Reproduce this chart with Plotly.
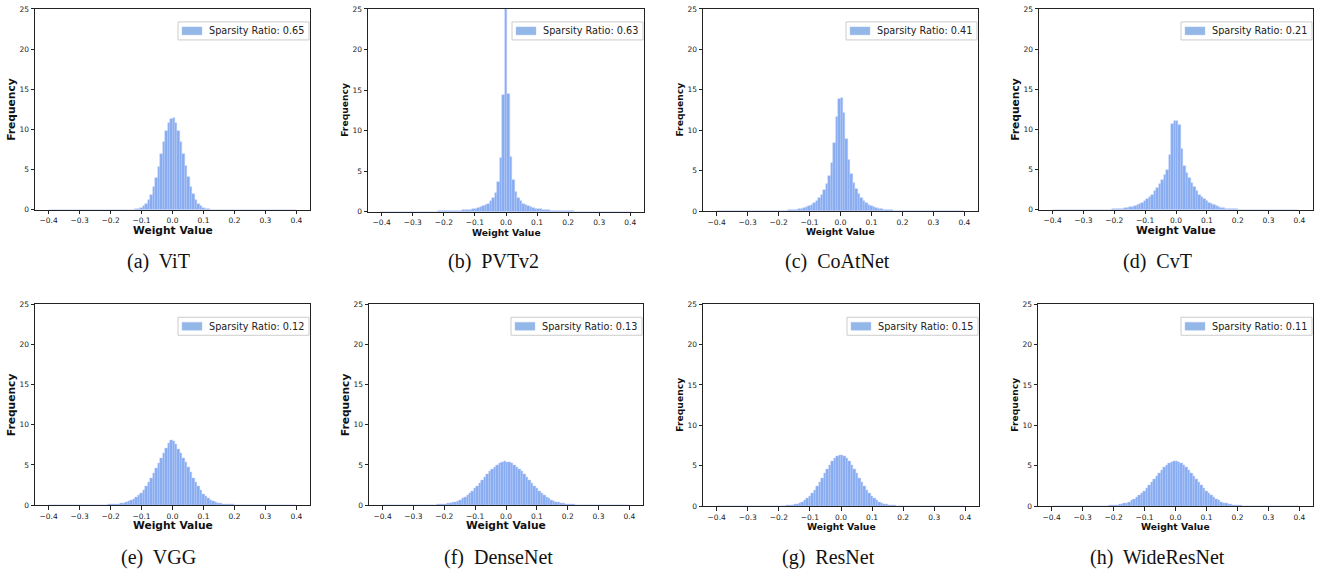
import plotly.graph_objects as go

# ---------------- data ----------------
model_names = ["ViT", "PVTv2", "CoAtNet", "CvT", "VGG", "DenseNet", "ResNet", "WideResNet"]
panel_letters = ["a", "b", "c", "d", "e", "f", "g", "h"]
sparsity_ratios = ["0.65", "0.63", "0.41", "0.21", "0.12", "0.13", "0.15", "0.11"]
bin_width = 0.008
first_bin_center = [-0.396, -0.4, -0.396, -0.396, -0.396, -0.396, -0.396, -0.396]
x_tick_vals = [-0.4, -0.3, -0.2, -0.1, 0.0, 0.1, 0.2, 0.3, 0.4]
x_tick_text = ["\u22120.4", "\u22120.3", "\u22120.2", "\u22120.1", "0.0", "0.1", "0.2", "0.3", "0.4"]
y_tick_vals = [0, 5, 10, 15, 20, 25]
y_tick_text = ["0", "5", "10", "15", "20", "25"]

vit = [
    0, 0, 0, 0, 0, 0, 0, 0, 0, 0,
    0, 0, 0, 0, 0, 0, 0, 0, 0, 0,
    0, 0, 0, 0, 0, 0, 0, 0, 0, 0,
    0, 0, 0, 0.01, 0.03, 0.07, 0.13, 0.25, 0.45, 0.76,
    1.22, 1.9, 2.82, 4.0, 5.38, 6.9, 8.4, 9.78, 10.8, 11.36,
    11.38, 10.83, 9.82, 8.46, 6.95, 5.43, 4.04, 2.85, 1.92, 1.23,
    0.75, 0.44, 0.24, 0.13, 0.06, 0.03, 0.01, 0, 0, 0,
    0, 0, 0, 0, 0, 0, 0, 0, 0, 0,
    0, 0, 0, 0, 0, 0, 0, 0, 0, 0,
    0, 0, 0, 0, 0, 0, 0, 0, 0, 0,
]

pvtv2 = [
    0.01, 0.01, 0.01, 0.01, 0.01, 0.01, 0.01, 0.01, 0.01, 0.01,
    0.02, 0.02, 0.02, 0.02, 0.02, 0.02, 0.02, 0.02, 0.02, 0.02,
    0.03, 0.03, 0.03, 0.04, 0.04, 0.05, 0.06, 0.07, 0.08, 0.09,
    0.1, 0.12, 0.15, 0.17, 0.2, 0.24, 0.28, 0.33, 0.39, 0.46,
    0.55, 0.66, 0.8, 1.0, 1.28, 1.7, 2.35, 3.7, 6.6, 14.4,
    36.0,
    14.5, 6.8, 3.9, 2.5, 1.75, 1.3, 1.0, 0.82, 0.68, 0.56,
    0.47, 0.40, 0.34, 0.29, 0.25, 0.21, 0.18, 0.15, 0.13, 0.11,
    0.09, 0.08, 0.07, 0.06, 0.05, 0.04, 0.04, 0.03, 0.03, 0.03,
    0.02, 0.02, 0.02, 0.02, 0.02, 0.02, 0.02, 0.02, 0.02, 0.02,
    0.01, 0.01, 0.01, 0.01, 0.01, 0.01, 0.01, 0.01, 0.01, 0.01,
]

coatnet = [
    0.01, 0.01, 0.01, 0.01, 0.01, 0.01, 0.01, 0.01, 0.01, 0.01,
    0.01, 0.01, 0.01, 0.01, 0.01, 0.01, 0.01, 0.01, 0.01, 0.01,
    0.02, 0.02, 0.025, 0.03, 0.04, 0.045, 0.055, 0.07, 0.09, 0.11,
    0.14, 0.17, 0.22, 0.27, 0.34, 0.42, 0.52, 0.65, 0.82, 1.03,
    1.3, 1.62, 2.05, 2.6, 3.4, 4.4, 6.0, 8.4, 11.6, 13.9,
    14.0, 12.1, 8.9, 6.4, 4.6, 3.5, 2.7, 2.1, 1.65, 1.3,
    1.02, 0.8, 0.63, 0.5, 0.4, 0.32, 0.25, 0.2, 0.16, 0.13,
    0.1, 0.08, 0.065, 0.05, 0.04, 0.035, 0.03, 0.025, 0.02, 0.02,
    0.01, 0.01, 0.01, 0.01, 0.01, 0.01, 0.01, 0.01, 0.01, 0.01,
    0.01, 0.01, 0.01, 0.01, 0.01, 0.01, 0.01, 0.01, 0.01, 0.01,
]

cvt = [
    0.01, 0.01, 0.01, 0.01, 0.01, 0.01, 0.01, 0.01, 0.01, 0.01,
    0.01, 0.01, 0.01, 0.01, 0.01, 0.01, 0.01, 0.01, 0.01, 0.01,
    0.02, 0.02, 0.03, 0.04, 0.05, 0.07, 0.09, 0.12, 0.15, 0.19,
    0.24, 0.3, 0.38, 0.48, 0.6, 0.73, 0.9, 1.1, 1.35, 1.6,
    1.9, 2.3, 2.7, 3.2, 3.7, 4.3, 4.9, 6.8, 10.7, 11.1,
    11.1, 10.6, 7.6, 5.4, 4.6, 4.0, 3.4, 2.8, 2.3, 1.9,
    1.6, 1.3, 1.05, 0.85, 0.68, 0.54, 0.43, 0.34, 0.27, 0.21,
    0.16, 0.12, 0.09, 0.07, 0.05, 0.04, 0.03, 0.02, 0.02, 0.02,
    0.01, 0.01, 0.01, 0.01, 0.01, 0.01, 0.01, 0.01, 0.01, 0.01,
    0.01, 0.01, 0.01, 0.01, 0.01, 0.01, 0.01, 0.01, 0.01, 0.01,
]

vgg = [
    0.01, 0.01, 0.01, 0.01, 0.01, 0.01, 0.01, 0.01, 0.01, 0.01,
    0.01, 0.01, 0.01, 0.01, 0.01, 0.01, 0.01, 0.01, 0.01, 0.01,
    0.015, 0.02, 0.025, 0.035, 0.045, 0.06, 0.08, 0.11, 0.14, 0.19,
    0.25, 0.33, 0.43, 0.56, 0.72, 0.92, 1.18, 1.5, 1.9, 2.35,
    2.85, 3.4, 4.0, 4.6, 5.2, 5.8, 6.4, 7.1, 7.7, 8.1,
    8.0, 7.6, 7.0, 6.4, 5.8, 5.3, 4.7, 4.05, 3.4, 2.8,
    2.3, 1.85, 1.4, 1.1, 0.85, 0.66, 0.5, 0.38, 0.28, 0.21,
    0.16, 0.12, 0.09, 0.07, 0.05, 0.04, 0.03, 0.025, 0.02, 0.015,
    0.01, 0.01, 0.01, 0.01, 0.01, 0.01, 0.01, 0.01, 0.01, 0.01,
    0.01, 0.01, 0.01, 0.01, 0.01, 0.01, 0.01, 0.01, 0.01, 0.01,
]

densenet = [
    0.01, 0.01, 0.01, 0.01, 0.01, 0.01, 0.01, 0.01, 0.01, 0.01,
    0.01, 0.01, 0.01, 0.01, 0.01, 0.01, 0.015, 0.015, 0.02, 0.02,
    0.03, 0.04, 0.06, 0.08, 0.1, 0.14, 0.18, 0.24, 0.32, 0.41,
    0.52, 0.66, 0.82, 1.0, 1.22, 1.47, 1.75, 2.05, 2.38, 2.72,
    3.08, 3.45, 3.81, 4.15, 4.47, 4.76, 5.0, 5.19, 5.32, 5.4,
    5.39, 5.33, 5.20, 5.01, 4.77, 4.48, 4.16, 3.82, 3.46, 3.09,
    2.73, 2.39, 2.06, 1.75, 1.47, 1.23, 1.01, 0.82, 0.65, 0.52,
    0.40, 0.31, 0.24, 0.18, 0.13, 0.10, 0.07, 0.05, 0.04, 0.03,
    0.02, 0.02, 0.015, 0.015, 0.01, 0.01, 0.01, 0.01, 0.01, 0.01,
    0.01, 0.01, 0.01, 0.01, 0.01, 0.01, 0.01, 0.01, 0.01, 0.01,
]

resnet = [
    0.01, 0.01, 0.01, 0.01, 0.01, 0.01, 0.01, 0.01, 0.01, 0.01,
    0.01, 0.01, 0.01, 0.01, 0.01, 0.01, 0.01, 0.01, 0.01, 0.01,
    0.01, 0.01, 0.01, 0.01, 0.01, 0.02, 0.025, 0.035, 0.05, 0.08,
    0.12, 0.18, 0.26, 0.37, 0.52, 0.7, 0.94, 1.23, 1.57, 1.98,
    2.44, 2.94, 3.48, 4.03, 4.57, 5.08, 5.52, 5.9, 6.16, 6.3,
    6.28, 6.15, 5.90, 5.53, 5.09, 4.57, 4.03, 3.47, 2.93, 2.42,
    1.96, 1.55, 1.21, 0.92, 0.68, 0.50, 0.35, 0.25, 0.17, 0.11,
    0.07, 0.05, 0.03, 0.02, 0.02, 0.01, 0.01, 0.01, 0.01, 0.01,
    0.01, 0.01, 0.01, 0.01, 0.01, 0.01, 0.01, 0.01, 0.01, 0.01,
    0.01, 0.01, 0.01, 0.01, 0.01, 0.01, 0.01, 0.01, 0.01, 0.01,
]

wideresnet = [
    0.01, 0.01, 0.01, 0.01, 0.01, 0.01, 0.01, 0.01, 0.01, 0.01,
    0.01, 0.01, 0.01, 0.01, 0.01, 0.01, 0.01, 0.01, 0.01, 0.01,
    0.02, 0.02, 0.03, 0.045, 0.065, 0.09, 0.13, 0.17, 0.23, 0.31,
    0.41, 0.53, 0.67, 0.85, 1.05, 1.29, 1.57, 1.87, 2.2, 2.56,
    2.94, 3.33, 3.72, 4.1, 4.45, 4.77, 5.04, 5.26, 5.41, 5.5,
    5.49, 5.42, 5.27, 5.05, 4.78, 4.46, 4.11, 3.73, 3.34, 2.95,
    2.56, 2.20, 1.87, 1.56, 1.28, 1.04, 0.84, 0.66, 0.52, 0.40,
    0.30, 0.22, 0.17, 0.12, 0.09, 0.06, 0.045, 0.03, 0.02, 0.02,
    0.01, 0.01, 0.01, 0.01, 0.01, 0.01, 0.01, 0.01, 0.01, 0.01,
    0.01, 0.01, 0.01, 0.01, 0.01, 0.01, 0.01, 0.01, 0.01, 0.01,
]

series = [vit, pvtv2, coatnet, cvt, vgg, densenet, resnet, wideresnet]

# ---------------- layout geometry (pixels) ----------------
W, H = 1323, 578
# (left, right, top, bottom) of each plot area
boxes = [
    (35, 310, 5, 209), (368, 644, 5, 211), (703, 978, 5, 210.5), (1039, 1313, 5, 209),
    (35, 310, 305, 509), (369, 643, 305, 509), (703, 979, 305, 510), (1038, 1313, 305, 510),
]
title_sizes = [10.7, 9.2, 9.2, 10.7, 10.7, 10.7, 9.2, 9.2]
caption_x = [158, 493, 837, 1157, 158, 498, 828, 1157]
caption_y = [262, 262, 262, 262, 562, 562, 562, 562]

FONT = "DejaVu Sans"
bar_fill = "rgba(100,149,237,0.78)"
bar_edge = "rgba(190,205,250,0.9)"
legend_patch = "rgba(120,165,225,0.8)"

fig = go.Figure()
layout = dict(
    width=W, height=H,
    margin=dict(l=0, r=0, t=0, b=0),
    paper_bgcolor="white", plot_bgcolor="white",
    font=dict(family=FONT, color="#222"),
    bargap=0,
    showlegend=False,
    annotations=[],
    shapes=[],
)

for i in range(8):
    n = i + 1
    sfx = "" if n == 1 else str(n)
    l, r, t, b = boxes[i]
    fig.add_trace(go.Bar(
        x0=first_bin_center[i], dx=bin_width, y=series[i],
        width=bin_width,
        marker=dict(color=bar_fill, line=dict(color=bar_edge, width=0.5)),
        name=f"Sparsity Ratio: {sparsity_ratios[i]}",
        xaxis=f"x{sfx}", yaxis=f"y{sfx}",
    ))
    axis_common = dict(
        showline=True, mirror=True, linecolor="#222", linewidth=1,
        ticks="outside", ticklen=3.5, tickwidth=0.8, tickcolor="#222",
        showgrid=False, zeroline=False,
        tickfont=dict(family=FONT, size=7.5, color="#222"),
    )
    layout[f"xaxis{sfx}"] = dict(
        axis_common, domain=[l / W, r / W], anchor=f"y{sfx}",
        range=[-0.444, 0.444], tickmode="array",
        tickvals=x_tick_vals, ticktext=x_tick_text,
    )
    layout[f"yaxis{sfx}"] = dict(
        axis_common, domain=[1 - b / H, 1 - t / H], anchor=f"x{sfx}",
        range=[0, 25], tickmode="array",
        tickvals=y_tick_vals, ticktext=y_tick_text,
    )
    # legend box (matplotlib-style, upper right inside the axes)
    xd, yd = f"x{sfx} domain", f"y{sfx} domain"
    layout["shapes"].append(dict(
        type="rect", xref=xd, yref=yd, xsizemode="pixel", ysizemode="pixel",
        xanchor=1, yanchor=1, x0=-132, x1=-1, y0=-13, y1=-31,
        fillcolor="rgba(255,255,255,0.85)", line=dict(color="#cccccc", width=1),
        layer="above",
    ))
    layout["shapes"].append(dict(
        type="rect", xref=xd, yref=yd, xsizemode="pixel", ysizemode="pixel",
        xanchor=1, yanchor=1, x0=-128, x1=-108, y0=-18, y1=-26,
        fillcolor=legend_patch, line=dict(color="rgba(180,200,245,0.9)", width=0.5),
        layer="above",
    ))
    layout["annotations"].append(dict(
        text=f"Sparsity Ratio: {sparsity_ratios[i]}", xref=xd, yref=yd,
        x=1, y=1, xanchor="left", yanchor="middle", xshift=-103, yshift=-22,
        showarrow=False, font=dict(family=FONT, size=9.7, color="#222"),
    ))
    # axis titles
    layout["annotations"].append(dict(
        text="<b>Weight Value</b>", xref=xd, yref=yd,
        x=0.5, y=0, xanchor="center", yanchor="middle", yshift=-20.5,
        showarrow=False, font=dict(family=FONT, size=title_sizes[i], color="#111"),
    ))
    layout["annotations"].append(dict(
        text="<b>Frequency</b>", xref=xd, yref=yd,
        x=0, y=0.5, xanchor="center", yanchor="middle", xshift=-23.5,
        textangle=-90, showarrow=False,
        font=dict(family=FONT, size=title_sizes[i], color="#111"),
    ))
    # caption
    layout["annotations"].append(dict(
        text=f"({panel_letters[i]})\u00a0 {model_names[i]}",
        xref="paper", yref="paper",
        x=caption_x[i] / W, y=1 - caption_y[i] / H,
        xanchor="center", yanchor="middle", showarrow=False,
        font=dict(family="Liberation Serif", size=20, color="#111"),
    ))

fig.update_layout(**layout)
fig.write_html(
    "out.html",
    config={"displayModeBar": False},
    post_script="document.body.style.margin='0';document.body.style.overflow='hidden';",
)
